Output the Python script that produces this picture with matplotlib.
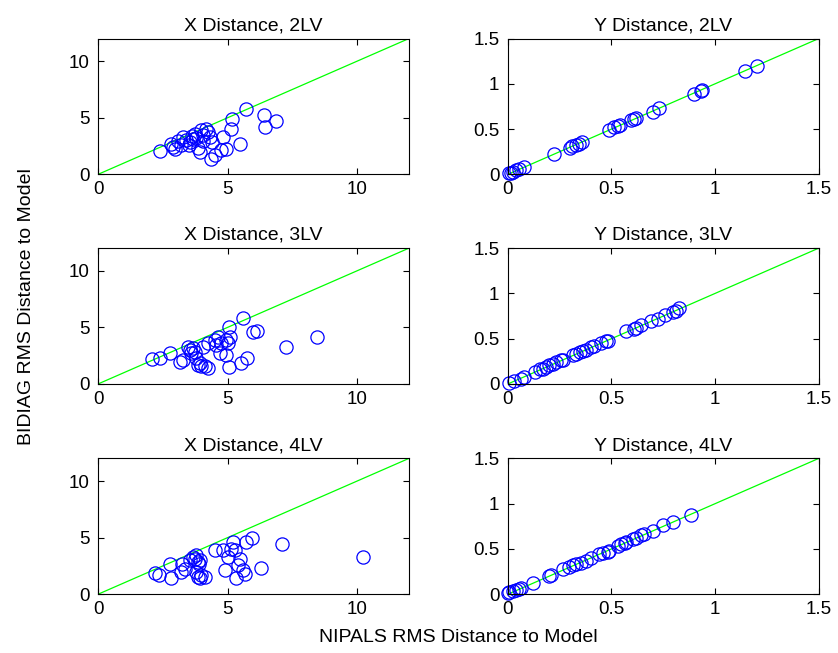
import numpy as np
import matplotlib.pyplot as plt

plt.rcParams['font.family'] = ['Liberation Sans', 'DejaVu Sans']

# X distance, 2 latent variables
x2_nipals = [2.38, 2.83, 2.96, 2.90, 3.10, 3.28, 3.40, 3.55, 3.62, 3.73, 3.80, 3.92,
             3.99, 4.05, 4.18, 4.25, 4.31, 3.50, 3.65, 3.85, 4.37, 4.50, 4.76, 4.95,
             4.82, 5.14, 5.17, 5.47, 5.72, 6.39, 6.43, 6.88, 3.20, 4.05, 4.40]
x2_bidiag = [2.06, 2.71, 2.27, 2.45, 2.95, 3.30, 3.05, 2.85, 3.35, 3.60, 3.20, 1.98,
             3.89, 3.50, 4.04, 3.70, 3.30, 2.60, 3.10, 2.35, 1.39, 1.68, 2.12, 2.27,
             3.30, 4.04, 4.93, 2.71, 5.81, 5.22, 4.19, 4.69, 2.60, 2.95, 2.90]

# Y distance, 2 latent variables
y2_nipals = [0.008, 0.016, 0.024, 0.04, 0.056, 0.08, 0.225, 0.30, 0.31, 0.33, 0.345,
             0.36, 0.49, 0.51, 0.53, 0.54, 0.595, 0.61, 0.62, 0.70, 0.73, 0.90, 0.93,
             0.935, 1.145, 1.20]
y2_bidiag = [0.01, 0.02, 0.03, 0.045, 0.06, 0.085, 0.23, 0.29, 0.31, 0.32, 0.34,
             0.36, 0.49, 0.52, 0.53, 0.55, 0.60, 0.61, 0.62, 0.69, 0.73, 0.89, 0.92,
             0.93, 1.14, 1.20]

# X distance, 3 latent variables
x3_nipals = [2.08, 2.38, 2.76, 3.15, 3.28, 3.47, 3.53, 3.60, 3.66, 3.73, 3.79, 3.86,
             3.92, 3.99, 4.12, 4.25, 4.05, 4.25, 4.50, 4.56, 4.63, 4.76, 4.95, 5.01,
             5.08, 4.69, 4.95, 5.04, 5.04, 5.53, 5.76, 5.59, 5.98, 6.15, 7.24, 8.46]
x3_bidiag = [2.18, 2.27, 2.71, 1.98, 2.10, 3.30, 3.00, 2.71, 3.15, 2.85, 2.27, 1.68,
             1.83, 1.62, 1.56, 1.39, 3.30, 3.60, 3.89, 3.45, 4.19, 3.60, 3.89, 3.60,
             4.19, 2.71, 2.56, 5.01, 1.53, 1.83, 2.27, 5.81, 4.63, 4.69, 3.30, 4.19]

# Y distance, 3 latent variables
y3_nipals = [0.008, 0.032, 0.064, 0.08, 0.129, 0.153, 0.169, 0.185, 0.201, 0.217, 0.233,
             0.257, 0.265, 0.314, 0.330, 0.346, 0.362, 0.378, 0.402, 0.418, 0.450, 0.474,
             0.482, 0.571, 0.611, 0.619, 0.643, 0.691, 0.723, 0.756, 0.796, 0.812, 0.828]
y3_bidiag = [0.01, 0.035, 0.06, 0.08, 0.13, 0.16, 0.17, 0.19, 0.21, 0.22, 0.24,
             0.26, 0.27, 0.32, 0.33, 0.35, 0.36, 0.38, 0.41, 0.42, 0.45, 0.47,
             0.48, 0.58, 0.61, 0.62, 0.65, 0.69, 0.72, 0.76, 0.79, 0.81, 0.84]

# X distance, 4 latent variables
x4_nipals = [2.19, 2.34, 2.76, 2.80, 3.19, 3.24, 3.34, 3.54, 3.67, 3.73, 3.79, 3.86,
             3.88, 3.92, 3.79, 3.86, 3.92, 3.99, 4.12, 4.50, 4.82, 4.89, 5.02, 5.14,
             5.21, 5.27, 5.34, 5.40, 5.47, 5.60, 5.66, 5.72, 5.95, 6.30, 7.11, 10.22]
x4_bidiag = [1.89, 1.68, 2.71, 1.39, 1.98, 2.71, 2.27, 3.00, 3.30, 3.15, 3.45, 2.85,
             2.71, 3.00, 1.98, 1.53, 1.39, 1.68, 1.53, 3.95, 3.89, 2.18, 3.30, 4.04,
             4.63, 3.89, 1.39, 2.56, 3.15, 2.12, 1.83, 4.63, 4.93, 2.36, 4.42, 3.30]

# Y distance, 4 latent variables
y4_nipals = [0.0, 0.008, 0.024, 0.040, 0.056, 0.064, 0.121, 0.201, 0.209, 0.265, 0.297,
             0.314, 0.330, 0.354, 0.378, 0.402, 0.442, 0.458, 0.482, 0.490, 0.531, 0.547,
             0.563, 0.571, 0.603, 0.619, 0.643, 0.659, 0.699, 0.748, 0.796, 0.884]
y4_bidiag = [0.01, 0.02, 0.035, 0.05, 0.06, 0.07, 0.12, 0.20, 0.21, 0.28, 0.30,
             0.32, 0.33, 0.35, 0.37, 0.40, 0.44, 0.45, 0.47, 0.48, 0.53, 0.55,
             0.57, 0.58, 0.61, 0.62, 0.65, 0.66, 0.70, 0.76, 0.80, 0.88]

titles = ['X Distance, 2LV', 'Y Distance, 2LV',
          'X Distance, 3LV', 'Y Distance, 3LV',
          'X Distance, 4LV', 'Y Distance, 4LV']
series = [(x2_nipals, x2_bidiag), (y2_nipals, y2_bidiag),
          (x3_nipals, x3_bidiag), (y3_nipals, y3_bidiag),
          (x4_nipals, x4_bidiag), (y4_nipals, y4_bidiag)]

fig = plt.figure(figsize=(8.38, 6.53), dpi=100)

lefts = [0.117, 0.606]
bottoms = [0.733, 0.412, 0.090]
w, h = 0.371, 0.208

for i, (title, (xs, ys)) in enumerate(zip(titles, series)):
    row, col = divmod(i, 2)
    ax = fig.add_axes([lefts[col], bottoms[row], w, h])
    lim = 12 if col == 0 else 1.5
    # 1:1 reference line, then the per-sample distances
    ax.plot([0, lim], [0, lim], color=(0, 1, 0), lw=0.9, zorder=1)
    ax.plot(xs, ys, 'o', mfc='none', mec='b', ms=9.5, mew=0.9, clip_on=False, zorder=2)
    ax.set_xlim(0, lim)
    ax.set_ylim(0, lim)
    if col == 0:
        ax.set_xticks([0, 5, 10])
        ax.set_yticks([0, 5, 10])
    else:
        ticks = [0, 0.5, 1, 1.5]
        labels = ['0', '0.5', '1', '1.5']
        ax.set_xticks(ticks, labels)
        ax.set_yticks(ticks, labels)
    ax.tick_params(direction='in', top=True, right=True, labelsize=13.5, length=4, width=0.8)
    ax.tick_params(axis='x', pad=5)
    ax.tick_params(axis='y', pad=6)
    for s in ax.spines.values():
        s.set_linewidth(0.8)
    ax.set_title(title, fontsize=14, pad=6)

fig.text(0.032, 0.53, 'BIDIAG RMS Distance to Model', rotation=90,
         ha='center', va='center', fontsize=14)
fig.text(0.547, 0.024, 'NIPALS RMS Distance to Model', ha='center', va='center',
         fontsize=14)

fig.savefig('out.png', dpi=100)
